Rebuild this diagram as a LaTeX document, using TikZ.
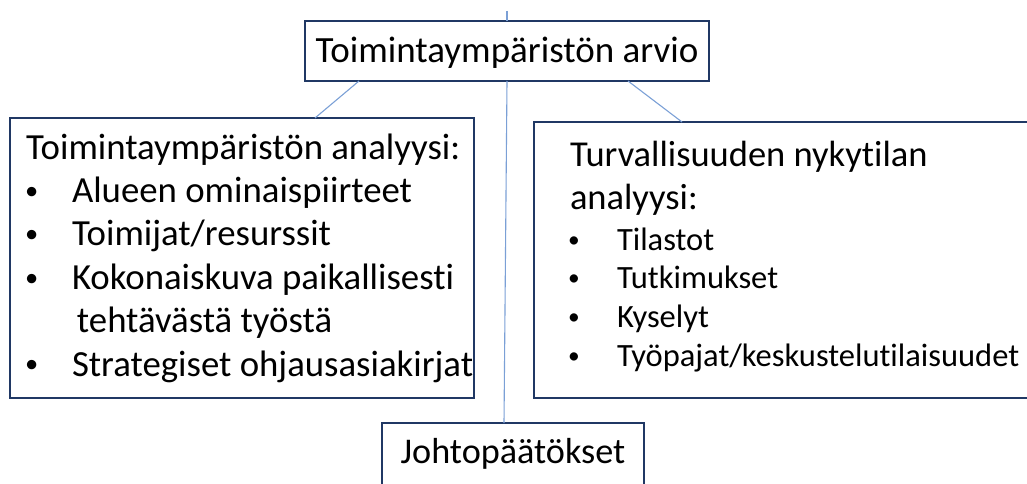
\documentclass[tikz,border=0pt]{standalone}
\usepackage{fontspec}
\setmainfont{Carlito}[Ligatures=NoCommon]
\usetikzlibrary{calc}
\definecolor{reuna}{HTML}{203864}
\definecolor{viiva}{HTML}{7BA0D6}
\newcommand{\pallo}[2]{\makebox[#1][l]{\hspace{#2}\raisebox{0.09em}{\scalebox{0.72}{\textbullet}}}}
\newcommand{\valit}{\spaceskip=0pt\xspaceskip=0pt\relax}

\begin{document}
\begin{tikzpicture}[
    x=1pt, y=-1pt,
    laatikko/.style={
      rectangle,
      draw=reuna,
      line width=1.6pt,
      outer sep=0pt},
    isoteksti/.style={
      font=\fontsize{36.8}{43.4}\selectfont},
    yhteys/.style={
      draw=viiva,
      line width=1.1pt}
    ]

  \clip (0,0) rectangle (1027,484);

  \node at (507,51) (arvio) [laatikko, minimum width=404pt, inner ysep=10pt,
    text height=32pt, text depth=8pt, font=\fontsize{37}{46}\selectfont] {Toimintaympäristön arvio};

  \node at (242,258) (analyysi) [laatikko, isoteksti, minimum height=280pt,
    inner xsep=16pt, text width=432pt, align=left]
    {\valit\mbox{Toimintaympäristön analyysi:}\\
     \mbox{\pallo{46pt}{-1pt}Alueen ominaispiirteet}\\
     \mbox{\pallo{46pt}{-1pt}Toimijat/resurssit}\\
     \mbox{\pallo{46pt}{-1pt}Kokonaiskuva paikallisesti}\\
     \mbox{\hspace*{51pt}tehtävästä työstä}\\
     \mbox{\pallo{46pt}{-1pt}Strategiset ohjausasiakirjat}};

  \node at (797,260) (nykytila) [laatikko, minimum height=276pt,
    inner xsep=36pt, text width=454pt, align=left]
    {{\fontsize{36.5}{43}\selectfont\valit \mbox{Turvallisuuden nykytilan}\\ \mbox{analyysi:}\par}
     \vspace{2.3pt}
     {\fontsize{32.5}{38.7}\selectfont\valit
     \mbox{\pallo{47pt}{-2pt}Tilastot}\\
     \mbox{\pallo{47pt}{-2pt}Tutkimukset}\\
     \mbox{\pallo{47pt}{-2pt}Kyselyt}\\
     \mbox{\pallo{47pt}{-2pt}Työpajat/keskustelutilaisuudet}\rule[-13pt]{0pt}{0pt}\par}};

  \node at (513,423) (johto) [laatikko, anchor=north, minimum width=262pt, inner ysep=10pt,
    text height=30pt, text depth=40pt, font=\fontsize{36.2}{43}\selectfont] {Johtopäätökset};

  \coordinate (ylin) at (507,11);

  \path[yhteys]
        (ylin) edge (arvio.north)
        ($(arvio.south west)+(54,0)$) edge ($(analyysi.north west)+(305,0)$)
        ($(arvio.south west)+(323,0)$) edge ($(nykytila.north west)+(148,0)$)
        (arvio.south) edge ($(johto.north west)+(122,0)$)
   ;

\end{tikzpicture}
\end{document}
